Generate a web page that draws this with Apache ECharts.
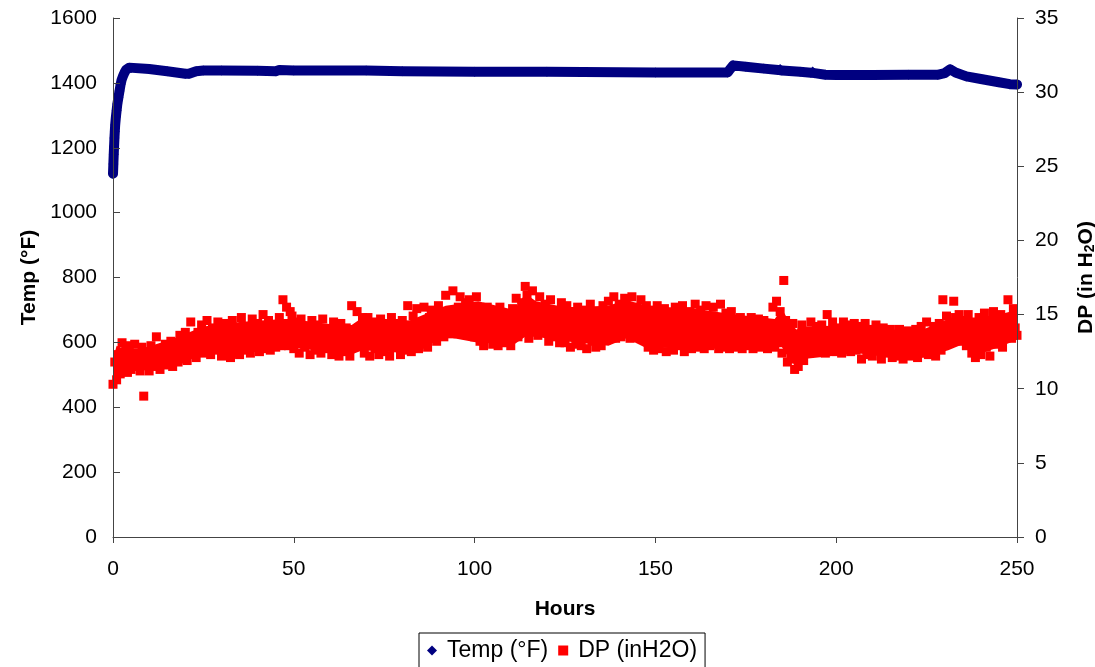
<!DOCTYPE html>
<html>
<head>
<meta charset="utf-8">
<script src="https://cdn.jsdelivr.net/npm/echarts@6/dist/echarts.min.js"></script>
<style>
html,body{margin:0;padding:0;background:#fff;overflow:hidden;width:1095px;height:667px;}
#chart{width:1095px;height:667px;}
</style>
</head>
<body>
<div id="chart"></div>
<script>
// X axis ticks (hours)
const xTicks = [0, 50, 100, 150, 200, 250];
const tempTicks = [0, 200, 400, 600, 800, 1000, 1200, 1400, 1600];
const dpTicks = [0, 5, 10, 15, 20, 25, 30, 35];

// Temperature (°F) samples: hours and values
const tempHours = [0, 0.1, 0.2, 0.3, 0.4, 0.5, 0.6, 0.8, 1.0, 1.2, 1.5, 1.8, 2.1, 2.4, 2.8, 3.2, 3.6, 4.0, 4.5,
  5, 10, 15, 20, 21, 23, 25, 30, 40, 45, 46, 50, 70, 80, 100, 120, 150, 170, 170.5, 171.5, 175, 180,
  184, 184.5, 185, 190, 193, 193.5, 194, 197, 200, 210, 220, 228, 230, 231.5, 233, 236, 240, 245, 248, 250];
const tempValues = [1120, 1150, 1180, 1205, 1230, 1250, 1270, 1295, 1315, 1335, 1355, 1375, 1395, 1410, 1422, 1432, 1440, 1445, 1447,
  1446, 1443, 1436, 1428, 1428, 1436, 1438, 1438, 1437, 1436, 1440, 1438, 1438, 1436, 1434, 1434, 1432, 1432, 1440, 1454, 1450, 1444,
  1440, 1443, 1438, 1434, 1431, 1435, 1430, 1425, 1424, 1424, 1425, 1425, 1430, 1442, 1432, 1420, 1412, 1402, 1396, 1395];

// Differential pressure (inH2O), one sample every half hour from 0 h
const dpStartHour = 0;
const dpStepHours = 0.5;
const dpValues = [
  10.3, 11.8, 10.6, 12.3, 11.0, 13.1, 11.4, 12.6, 11.1, 12.9,
  11.3, 12.4, 13.0, 11.6, 12.1, 11.2, 12.8, 9.5, 11.8, 12.5,
  11.2, 12.9, 12.0, 11.5, 13.5, 12.3, 11.3, 12.7, 11.9, 13.0,
  11.6, 12.4, 13.2, 11.5, 12.8, 12.1, 11.8, 13.6, 12.5, 12.0,
  13.8, 11.9, 12.9, 14.5, 12.3, 13.4, 12.1, 13.8, 12.6, 14.3,
  12.4, 13.5, 14.6, 12.9, 12.3, 14.1, 13.2, 12.6, 14.5, 13.0,
  12.2, 13.8, 14.4, 12.5, 13.3, 12.1, 14.6, 13.6, 12.4, 13.9,
  12.3, 14.8, 13.1, 12.6, 14.2, 13.5, 12.4, 14.7, 13.0, 12.8,
  14.4, 12.5, 13.7, 15.0, 12.7, 13.3, 14.6, 12.6, 13.9, 14.3,
  12.8, 13.6, 14.8, 12.9, 16.0, 13.4, 15.5, 12.9, 15.2, 14.9,
  12.7, 14.5, 13.4, 12.4, 14.7, 13.1, 12.8, 14.2, 13.6, 12.3,
  14.6, 13.0, 12.6, 14.3, 13.8, 12.4, 14.7, 13.2, 12.7, 14.0,
  13.5, 12.3, 14.5, 12.9, 13.7, 12.2, 14.4, 13.3, 12.5, 14.1,
  13.0, 12.2, 15.6, 13.6, 12.9, 15.2, 14.1, 13.0, 14.8, 12.4,
  13.7, 14.8, 12.2, 13.4, 14.5, 12.7, 13.9, 12.3, 14.7, 13.2,
  12.5, 14.3, 13.6, 12.2, 14.8, 13.0, 12.8, 14.4, 13.5, 12.3,
  14.6, 13.1, 12.6, 15.6, 13.8, 12.5, 14.9, 13.3, 15.4, 12.7,
  14.2, 13.0, 15.5, 13.6, 12.8, 14.8, 15.3, 13.4, 14.1, 13.2,
  15.6, 13.8, 14.6, 13.5, 16.3, 14.2, 15.0, 13.7, 16.6, 14.5,
  13.9, 15.5, 16.2, 14.0, 14.8, 15.8, 13.6, 16.0, 14.4, 15.1,
  13.5, 16.2, 14.6, 13.2, 15.3, 12.9, 14.1, 15.5, 13.4, 14.7,
  13.0, 15.2, 14.0, 12.9, 15.5, 13.6, 14.4, 13.1, 15.0, 13.8,
  12.9, 15.4, 14.3, 16.1, 13.5, 14.8, 15.8, 13.8, 16.9, 16.3,
  13.4, 14.7, 16.6, 14.0, 15.4, 13.6, 16.2, 14.8, 13.9, 15.7,
  14.1, 13.2, 16.0, 14.5, 13.5, 15.2, 14.2, 13.1, 15.8, 14.0,
  13.1, 15.6, 14.3, 12.8, 15.0, 13.7, 13.0, 15.5, 14.1, 12.9,
  15.3, 13.6, 12.7, 14.8, 15.7, 13.2, 14.4, 12.8, 15.1, 13.9,
  12.9, 15.6, 14.2, 13.3, 15.9, 13.5, 14.6, 16.2, 13.4, 14.9,
  15.7, 13.5, 14.3, 16.1, 13.8, 15.2, 13.4, 16.2, 14.5, 13.6,
  15.5, 14.0, 16.0, 13.5, 14.7, 15.6, 12.8, 14.2, 15.3, 12.6,
  13.9, 15.6, 12.7, 14.6, 13.3, 15.4, 12.5, 14.1, 15.0, 13.1,
  12.6, 15.5, 14.3, 12.9, 13.8, 15.6, 12.5, 14.7, 13.5, 15.2,
  12.7, 14.0, 15.7, 13.2, 12.8, 15.3, 14.4, 12.7, 15.6, 13.6,
  12.9, 14.9, 15.5, 13.0, 14.2, 12.7, 15.7, 13.8, 12.8, 15.1,
  14.3, 12.7, 15.2, 13.5, 12.8, 14.6, 13.2, 14.8, 12.7, 13.9,
  14.5, 12.9, 13.6, 14.8, 12.7, 14.0, 13.3, 14.7, 12.8, 13.8,
  14.6, 13.0, 12.7, 14.2, 13.5, 15.5, 12.8, 15.9, 13.6, 15.2,
  12.4, 17.3, 14.6, 11.8, 13.5, 12.0, 14.4, 11.3, 12.6, 11.5,
  13.2, 14.3, 11.9, 12.5, 13.8, 12.4, 14.5, 13.0, 12.5, 14.2,
  13.4, 12.6, 14.3, 13.7, 12.4, 15.0, 13.1, 12.7, 14.5, 13.6,
  12.5, 14.1, 13.3, 12.4, 14.5, 12.9, 13.7, 14.3, 12.5, 13.9,
  14.4, 12.6, 13.2, 14.2, 12.0, 13.6, 14.4, 12.3, 13.0, 14.0,
  12.2, 13.5, 14.3, 12.6, 13.1, 12.0, 14.1, 13.3, 12.4, 13.8,
  14.0, 12.1, 12.9, 13.6, 12.2, 14.0, 13.1, 12.0, 13.7, 12.6,
  13.9, 12.2, 13.4, 12.8, 14.0, 12.1, 13.5, 14.2, 12.4, 13.0,
  14.5, 12.3, 13.6, 12.9, 14.2, 12.2, 13.8, 14.4, 12.6, 16.0,
  13.4, 14.9, 13.7, 14.5, 13.5, 15.9, 14.8, 13.6, 15.0, 14.2,
  13.2, 14.6, 12.9, 15.0, 13.8, 12.4, 14.2, 12.1, 13.5, 14.8,
  12.3, 13.7, 15.1, 12.8, 14.4, 12.2, 13.9, 15.2, 13.0, 14.6,
  13.6, 15.0, 12.8, 14.3, 13.5, 16.0, 14.8, 13.4, 15.4, 14.1,
  13.6
];

// Dense core of the DP cloud: lower / upper envelope
const dpBandHours = [0, 1, 3, 8, 17, 25, 35, 47, 49, 62, 66, 69, 82, 92, 101, 111, 114, 117, 125, 137, 142, 147, 161, 172, 183, 185, 187, 189, 191, 206, 215, 224, 231, 235, 239, 245, 250];
const dpBandLow   = [10.4, 11.0, 11.2, 11.2, 11.7, 12.4, 12.3, 12.8, 12.8, 12.4, 12.3, 12.6, 12.4, 13.5, 13.1, 13.0, 13.5, 13.5, 13.2, 12.9, 13.4, 12.8, 12.7, 12.8, 12.8, 12.8, 12.0, 11.5, 12.0, 12.4, 12.1, 12.1, 12.6, 13.0, 12.3, 12.8, 13.3];
const dpBandHigh  = [12.0, 12.9, 12.7, 12.7, 13.4, 14.2, 14.5, 14.7, 14.7, 14.3, 14.3, 14.8, 14.6, 15.6, 15.9, 15.3, 16.4, 15.9, 15.5, 15.6, 16.0, 15.6, 15.4, 15.0, 14.7, 15.4, 14.5, 14.0, 14.2, 14.3, 14.0, 14.0, 14.7, 14.8, 14.8, 15.0, 15.3];

const tempData = tempHours.map((h, i) => [h, tempValues[i]]);
const dpData = dpValues.map((v, i) => [dpStartHour + i * dpStepHours, v]);
const bandLowData = dpBandHours.map((h, i) => [h, dpBandLow[i]]);
const bandHighData = dpBandHours.map((h, i) => [h, dpBandHigh[i]]);

const FONT = 'Liberation Sans, Arial, sans-serif';
const plain = v => String(v);
const AX = '#444';
const chart = echarts.init(document.getElementById('chart'), null, { width: 1095, height: 667 });
chart.setOption({
  animation: false,
  backgroundColor: '#ffffff',
  grid: { left: 113, top: 18, width: 904, height: 519, containLabel: false, outerBoundsMode: 'none' },
  legend: {
    data: [
      { name: 'Temp (°F)', icon: 'diamond' },
      { name: 'DP (inH2O)', icon: 'rect' }
    ],
    left: 419,
    top: 633,
    itemWidth: 10,
    itemHeight: 10,
    itemGap: 10,
    padding: [6, 8, 20, 8],
    borderColor: '#000',
    borderWidth: 1,
    textStyle: { fontFamily: FONT, fontSize: 23, color: '#000', padding: [0, 0, 0, 5] }
  },
  xAxis: {
    type: 'value',
    z: 10,
    min: xTicks[0],
    max: xTicks[xTicks.length - 1],
    interval: 50,
    name: 'Hours',
    nameLocation: 'middle',
    nameGap: 62,
    nameTextStyle: { fontFamily: FONT, fontSize: 21, fontWeight: 'bold', color: '#000' },
    axisLine: { show: true, onZero: false, lineStyle: { color: AX, width: 1 } },
    axisTick: { show: true, inside: false, length: 6, lineStyle: { color: AX } },
    axisLabel: { fontFamily: FONT, fontSize: 21, color: '#000', margin: 22, formatter: plain },
    splitLine: { show: false }
  },
  yAxis: [
    {
      type: 'value',
      z: 10,
      min: tempTicks[0],
      max: tempTicks[tempTicks.length - 1],
      interval: 200,
      position: 'left',
      name: 'Temp (°F)',
      nameLocation: 'middle',
      nameGap: 71,
      nameRotate: 90,
      nameTextStyle: { fontFamily: FONT, fontSize: 21, fontWeight: 'bold', color: '#000' },
      axisLine: { show: true, lineStyle: { color: AX, width: 1 } },
      axisTick: { show: true, inside: true, length: 7, lineStyle: { color: AX } },
      axisLabel: { fontFamily: FONT, fontSize: 21, color: '#000', margin: 16, formatter: plain },
      splitLine: { show: false }
    },
    {
      type: 'value',
      z: 10,
      min: dpTicks[0],
      max: dpTicks[dpTicks.length - 1],
      interval: 5,
      position: 'right',
      name: 'DP (in H{sub|2}O)',
      nameLocation: 'middle',
      nameGap: 58,
      nameRotate: 90,
      nameTextStyle: {
        fontFamily: FONT, fontSize: 21, fontWeight: 'bold', color: '#000',
        rich: { sub: { fontFamily: FONT, fontSize: 14, fontWeight: 'bold', color: '#000', verticalAlign: 'bottom', padding: [8, 0, 0, 0] } }
      },
      axisLine: { show: true, lineStyle: { color: AX, width: 1 } },
      axisTick: { show: true, inside: false, length: 7, lineStyle: { color: AX } },
      axisLabel: { fontFamily: FONT, fontSize: 21, color: '#000', margin: 18, formatter: plain },
      splitLine: { show: false }
    }
  ],
  series: [
    {
      name: 'dpBandHigh',
      type: 'line',
      yAxisIndex: 1,
      data: bandHighData,
      symbol: 'none',
      lineStyle: { color: '#FF0000', width: 0, opacity: 0 },
      areaStyle: { color: '#FF0000', opacity: 1, origin: 'start' },
      silent: true,
      z: 1
    },
    {
      name: 'dpBandLow',
      type: 'line',
      yAxisIndex: 1,
      data: bandLowData,
      symbol: 'none',
      lineStyle: { color: '#FFFFFF', width: 0, opacity: 0 },
      areaStyle: { color: '#FFFFFF', opacity: 1, origin: 'start' },
      silent: true,
      z: 2
    },
    {
      name: 'Temp (°F)',
      type: 'line',
      yAxisIndex: 0,
      data: tempData,
      symbol: 'diamond',
      symbolSize: 10,
      showSymbol: true,
      color: '#000080',
      itemStyle: { color: '#000080' },
      lineStyle: { color: '#000080', width: 10, join: 'round', cap: 'round' },
      z: 3
    },
    {
      name: 'DP (inH2O)',
      type: 'scatter',
      yAxisIndex: 1,
      data: dpData,
      symbol: 'rect',
      symbolSize: 9,
      color: '#FF0000',
      itemStyle: { color: '#FF0000', opacity: 1 },
      z: 4
    }
  ]
});
</script>
</body>
</html>
